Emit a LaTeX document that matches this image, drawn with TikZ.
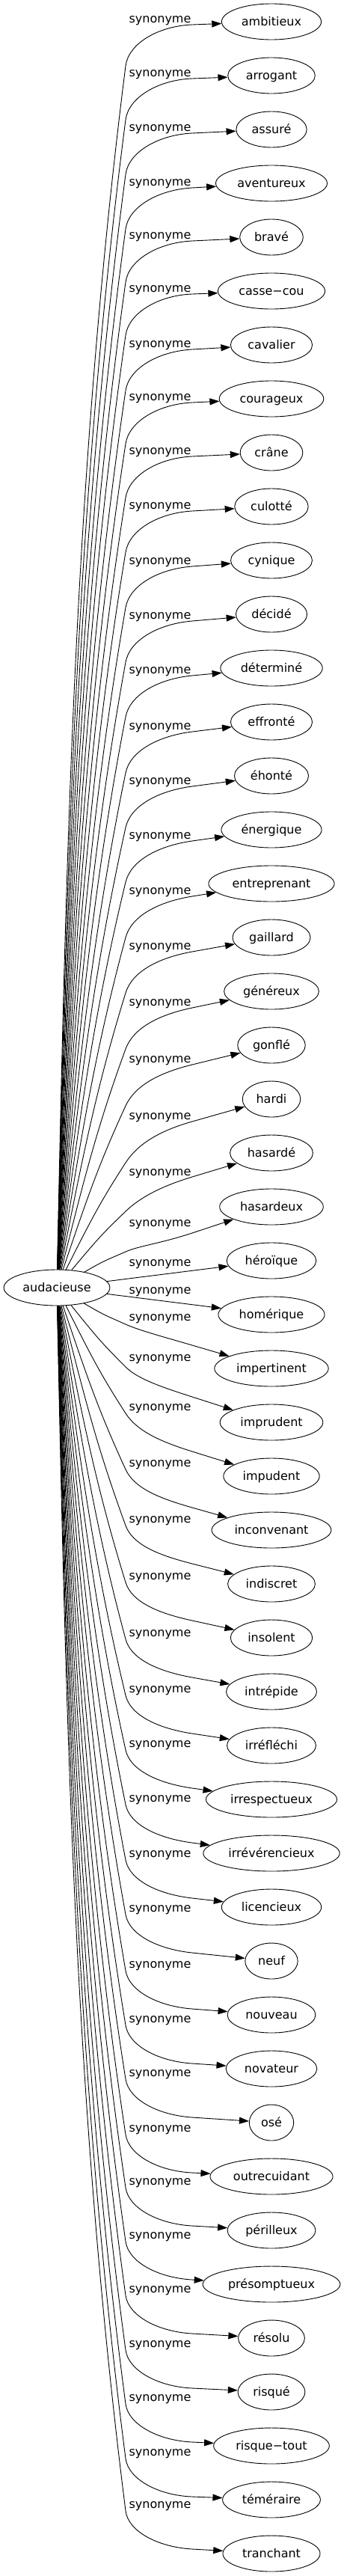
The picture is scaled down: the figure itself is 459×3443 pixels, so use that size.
\documentclass[tikz,border=0pt]{standalone}
\usepackage{fontspec}
\setmainfont{DejaVu Sans}
\usetikzlibrary{arrows.meta,shapes.geometric}
\begin{document}
\begin{tikzpicture}[x=1pt,y=-1pt,
  syn/.style={draw, ellipse, line width=0.9pt, inner xsep=7pt, inner ysep=0pt,
    minimum height=48pt, text height=14pt, text depth=3pt,
    font=\fontsize{16pt}{19pt}\selectfont},
  lab/.style={inner sep=0pt, text height=14pt, text depth=3pt,
    font=\fontsize{16pt}{19pt}\selectfont},
  edge/.style={line width=0.9pt, -{Triangle[length=13pt,width=9pt]}}]
\useasboundingbox (0,0) rectangle (459,3443);
\node[syn, inner xsep=4.5pt] (c) at (76,1721) {audacieuse};
\foreach \n/\txt/\qly/\qdv/\qdp/\qm in {
  0/ambitieux/28/60/5/0, 1/arrogant/100/60/5/0, 2/assuré/173/60/5/0,
  3/aventureux/246/60/5/0, 4/bravé/317/60/5/0, 5/casse−cou/388/60/5/0,
  6/cavalier/462/60/5/0, 7/courageux/533/60/5/0, 8/crâne/605/60/5/0,
  9/culotté/678/60/5/0, 10/cynique/752/60/5/0, 11/décidé/825/60/5/0,
  12/déterminé/898/60/5/0, 13/effronté/973/60/5/0, 14/éhonté/1046/60/5/0,
  15/énergique/1119/60/5/0, 16/entreprenant/1193/60/5/0, 17/gaillard/1267/60/5/0,
  18/généreux/1342/60/5/0, 19/gonflé/1418/60/5/0, 20/hardi/1494/60/5/0,
  21/hasardé/1569/50/4/0, 22/hasardeux/1637/36/11/0, 23/héroïque/1690/0/0/1,
  24/homérique/1727/0/0/1, 25/impertinent/1763/7/35/0, 26/imprudent/1817/10/50/0,
  27/impudent/1883/6/57/0, 28/inconvenant/1958/6/57/0, 29/indiscret/2033/6/57/0,
  30/insolent/2109/6/57/0, 31/intrépide/2185/6/57/0, 32/irréfléchi/2260/6/57/0,
  33/irrespectueux/2333/6/57/0, 34/irrévérencieux/2406/6/57/0, 35/licencieux/2480/6/57/0,
  36/neuf/2553/6/57/0, 37/nouveau/2628/6/57/0, 38/novateur/2701/6/57/0,
  39/osé/2773/6/57/0, 40/outrecuidant/2847/6/57/0, 41/périlleux/2918/6/57/0,
  42/présomptueux/2990/6/57/0, 43/résolu/3062/6/57/0, 44/risqué/3135/6/57/0,
  45/risque−tout/3207/6/57/0, 46/téméraire/3280/6/57/0, 47/tranchant/3350/6/57/0}{
  \pgfmathsetmacro\qyE{29+72*\n}
  \node[syn] (t\n) at (363,\qyE) {\txt};
  \node[lab] (l\n) at (214,\qly-3) {synonyme};
  \ifnum\qm=1
    \draw[edge] (c) -- (t\n);
  \else
    \pgfmathsetmacro\qvy{\qly+\qdv}
    \pgfmathsetmacro\qpy{\qly+\qdp}
    \pgfmathsetmacro\qdy{\qvy-1721}
    \pgfmathsetmacro\qth{atan2(\qdy,92)}
    \pgfmathsetmacro\qk{veclen(92,\qdy)/3}
    \pgfmathsetmacro\qs{\qdy<0 ? -1 : 1}
    \pgfmathsetmacro\qa{\qth+2*\qs}
    \pgfmathsetmacro\qh{\qth-4*\qs}
    \pgfmathsetmacro\qkk{\qk+40}
    \pgfmathsetmacro\qax{76+\qkk*cos(\qa)}
    \pgfmathsetmacro\qay{1721+\qkk*sin(\qa)}
    \pgfmathsetmacro\qbx{168-\qk*cos(\qh)}
    \pgfmathsetmacro\qby{\qvy-\qk*sin(\qh)}
    \pgfmathsetmacro\qkc{max(0.55*abs(\qvy-\qpy),20)}
    \pgfmathsetmacro\qcx{168+\qkc*cos(\qh)}
    \pgfmathsetmacro\qcy{\qvy+\qkc*sin(\qh)}
    \pgfmathsetmacro\qg{atan2(\qyE-\qpy,106)}
    \pgfmathsetmacro\qdx{257-45*cos(\qg)}
    \pgfmathsetmacro\qddy{\qpy-45*sin(\qg)}
    \draw[edge] (c) .. controls (\qax,\qay) and (\qbx,\qby) .. (168,\qvy)
      .. controls (\qcx,\qcy) and (\qdx,\qddy) .. (257,\qpy) -- (t\n);
  \fi
}
\end{tikzpicture}
\end{document}
